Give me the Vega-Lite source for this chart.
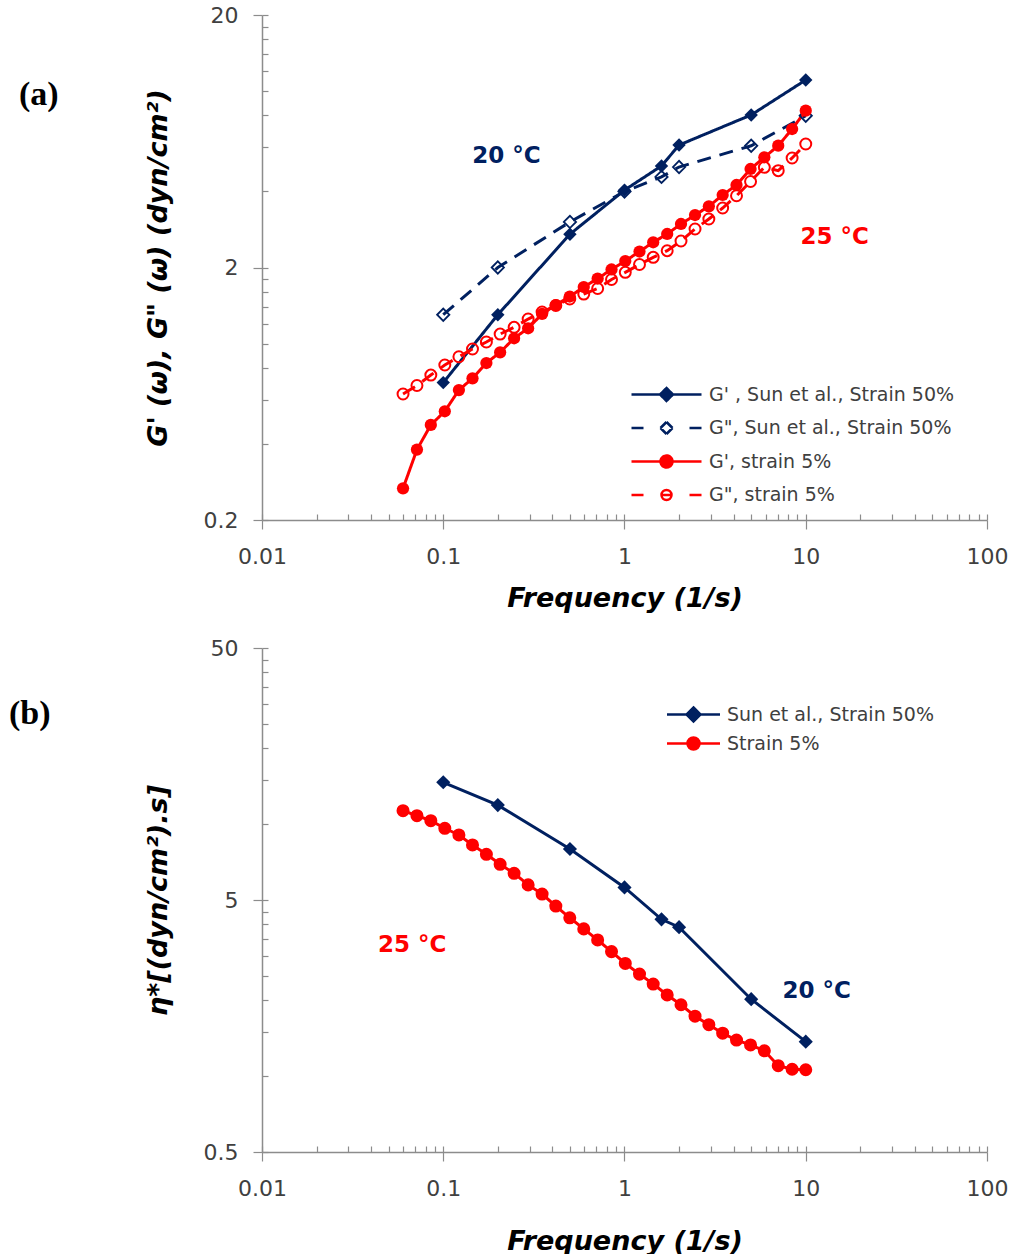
{
  "$schema": "https://vega.github.io/schema/vega-lite/v6.json",
  "background": "white",
  "padding": {"left": 9, "top": 4, "right": 0, "bottom": 0},
  "spacing": 26,
  "resolve": {"scale": {"color": "independent", "strokeDash": "independent", "x": "independent", "y": "independent"}, "legend": {"color": "independent"}},
  "config": {
    "view": {"stroke": null},
    "font": "DejaVu Sans",
    "axis": {
      "grid": false,
      "domainColor": "#8c8c8c",
      "domainWidth": 1.5,
      "tickColor": "#8c8c8c",
      "tickWidth": 1.2,
      "labelFont": "DejaVu Sans",
      "labelFontSize": 22,
      "labelColor": "#404040",
      "labelFlush": false,
      "labelOverlap": false,
      "titleFont": "DejaVu Sans",
      "titleFontWeight": "bold",
      "titleFontStyle": "italic",
      "titleColor": "#000000"
    },
    "legend": {
      "labelFont": "DejaVu Sans",
      "labelFontSize": 19,
      "labelColor": "#404040",
      "labelLimit": 400,
      "padding": 0
    }
  },
  "datasets": {
    "moduli": [
      {"series": "G' , Sun et al., Strain 50%", "freq": 0.1, "value": 0.70},
      {"series": "G' , Sun et al., Strain 50%", "freq": 0.2, "value": 1.30},
      {"series": "G' , Sun et al., Strain 50%", "freq": 0.5, "value": 2.71},
      {"series": "G' , Sun et al., Strain 50%", "freq": 1, "value": 4.05},
      {"series": "G' , Sun et al., Strain 50%", "freq": 1.6, "value": 5.05},
      {"series": "G' , Sun et al., Strain 50%", "freq": 2, "value": 6.11},
      {"series": "G' , Sun et al., Strain 50%", "freq": 5, "value": 8.04},
      {"series": "G' , Sun et al., Strain 50%", "freq": 10, "value": 11.06},
      {"series": "G\", Sun et al., Strain 50%", "freq": 0.1, "value": 1.30},
      {"series": "G\", Sun et al., Strain 50%", "freq": 0.2, "value": 2.0},
      {"series": "G\", Sun et al., Strain 50%", "freq": 0.5, "value": 3.03},
      {"series": "G\", Sun et al., Strain 50%", "freq": 1, "value": 4.0},
      {"series": "G\", Sun et al., Strain 50%", "freq": 1.6, "value": 4.57},
      {"series": "G\", Sun et al., Strain 50%", "freq": 2, "value": 5.0},
      {"series": "G\", Sun et al., Strain 50%", "freq": 5, "value": 6.07},
      {"series": "G\", Sun et al., Strain 50%", "freq": 10, "value": 7.98},
      {"series": "G', strain 5%", "freq": 0.06, "value": 0.267},
      {"series": "G', strain 5%", "freq": 0.0716, "value": 0.380},
      {"series": "G', strain 5%", "freq": 0.0854, "value": 0.476},
      {"series": "G', strain 5%", "freq": 0.102, "value": 0.539},
      {"series": "G', strain 5%", "freq": 0.122, "value": 0.654},
      {"series": "G', strain 5%", "freq": 0.145, "value": 0.728},
      {"series": "G', strain 5%", "freq": 0.173, "value": 0.837},
      {"series": "G', strain 5%", "freq": 0.206, "value": 0.923},
      {"series": "G', strain 5%", "freq": 0.246, "value": 1.049},
      {"series": "G', strain 5%", "freq": 0.294, "value": 1.149},
      {"series": "G', strain 5%", "freq": 0.351, "value": 1.309},
      {"series": "G', strain 5%", "freq": 0.418, "value": 1.420},
      {"series": "G', strain 5%", "freq": 0.499, "value": 1.535},
      {"series": "G', strain 5%", "freq": 0.596, "value": 1.674},
      {"series": "G', strain 5%", "freq": 0.711, "value": 1.809},
      {"series": "G', strain 5%", "freq": 0.848, "value": 1.964},
      {"series": "G', strain 5%", "freq": 1.01, "value": 2.122},
      {"series": "G', strain 5%", "freq": 1.21, "value": 2.314},
      {"series": "G', strain 5%", "freq": 1.44, "value": 2.517},
      {"series": "G', strain 5%", "freq": 1.72, "value": 2.715},
      {"series": "G', strain 5%", "freq": 2.05, "value": 2.974},
      {"series": "G', strain 5%", "freq": 2.45, "value": 3.228},
      {"series": "G', strain 5%", "freq": 2.92, "value": 3.494},
      {"series": "G', strain 5%", "freq": 3.48, "value": 3.874},
      {"series": "G', strain 5%", "freq": 4.15, "value": 4.244},
      {"series": "G', strain 5%", "freq": 4.96, "value": 4.911},
      {"series": "G', strain 5%", "freq": 5.91, "value": 5.464},
      {"series": "G', strain 5%", "freq": 7.05, "value": 6.073},
      {"series": "G', strain 5%", "freq": 8.41, "value": 7.07},
      {"series": "G', strain 5%", "freq": 10, "value": 8.36},
      {"series": "G\", strain 5%", "freq": 0.06, "value": 0.631},
      {"series": "G\", strain 5%", "freq": 0.0716, "value": 0.682},
      {"series": "G\", strain 5%", "freq": 0.0854, "value": 0.750},
      {"series": "G\", strain 5%", "freq": 0.102, "value": 0.822},
      {"series": "G\", strain 5%", "freq": 0.122, "value": 0.886},
      {"series": "G\", strain 5%", "freq": 0.145, "value": 0.951},
      {"series": "G\", strain 5%", "freq": 0.173, "value": 1.014},
      {"series": "G\", strain 5%", "freq": 0.206, "value": 1.090},
      {"series": "G\", strain 5%", "freq": 0.246, "value": 1.159},
      {"series": "G\", strain 5%", "freq": 0.294, "value": 1.250},
      {"series": "G\", strain 5%", "freq": 0.351, "value": 1.333},
      {"series": "G\", strain 5%", "freq": 0.418, "value": 1.414},
      {"series": "G\", strain 5%", "freq": 0.499, "value": 1.501},
      {"series": "G\", strain 5%", "freq": 0.596, "value": 1.570},
      {"series": "G\", strain 5%", "freq": 0.711, "value": 1.651},
      {"series": "G\", strain 5%", "freq": 0.848, "value": 1.793},
      {"series": "G\", strain 5%", "freq": 1.01, "value": 1.914},
      {"series": "G\", strain 5%", "freq": 1.21, "value": 2.056},
      {"series": "G\", strain 5%", "freq": 1.44, "value": 2.194},
      {"series": "G\", strain 5%", "freq": 1.72, "value": 2.331},
      {"series": "G\", strain 5%", "freq": 2.05, "value": 2.547},
      {"series": "G\", strain 5%", "freq": 2.45, "value": 2.842},
      {"series": "G\", strain 5%", "freq": 2.92, "value": 3.112},
      {"series": "G\", strain 5%", "freq": 3.48, "value": 3.440},
      {"series": "G\", strain 5%", "freq": 4.15, "value": 3.848},
      {"series": "G\", strain 5%", "freq": 4.96, "value": 4.381},
      {"series": "G\", strain 5%", "freq": 5.91, "value": 4.987},
      {"series": "G\", strain 5%", "freq": 7.05, "value": 4.835},
      {"series": "G\", strain 5%", "freq": 8.41, "value": 5.430},
      {"series": "G\", strain 5%", "freq": 10, "value": 6.168}
    ],
    "viscosity": [
      {"series": "Sun et al., Strain 50%", "freq": 0.1, "value": 14.66},
      {"series": "Sun et al., Strain 50%", "freq": 0.2, "value": 11.9},
      {"series": "Sun et al., Strain 50%", "freq": 0.5, "value": 7.97},
      {"series": "Sun et al., Strain 50%", "freq": 1, "value": 5.61},
      {"series": "Sun et al., Strain 50%", "freq": 1.6, "value": 4.19},
      {"series": "Sun et al., Strain 50%", "freq": 2, "value": 3.90},
      {"series": "Sun et al., Strain 50%", "freq": 5, "value": 2.02},
      {"series": "Sun et al., Strain 50%", "freq": 10, "value": 1.37},
      {"series": "Strain 5%", "freq": 0.06, "value": 11.31},
      {"series": "Strain 5%", "freq": 0.0716, "value": 10.80},
      {"series": "Strain 5%", "freq": 0.0854, "value": 10.32},
      {"series": "Strain 5%", "freq": 0.102, "value": 9.63},
      {"series": "Strain 5%", "freq": 0.122, "value": 9.06},
      {"series": "Strain 5%", "freq": 0.145, "value": 8.27},
      {"series": "Strain 5%", "freq": 0.173, "value": 7.59},
      {"series": "Strain 5%", "freq": 0.206, "value": 6.93},
      {"series": "Strain 5%", "freq": 0.246, "value": 6.38},
      {"series": "Strain 5%", "freq": 0.294, "value": 5.74},
      {"series": "Strain 5%", "freq": 0.351, "value": 5.28},
      {"series": "Strain 5%", "freq": 0.418, "value": 4.73},
      {"series": "Strain 5%", "freq": 0.499, "value": 4.25},
      {"series": "Strain 5%", "freq": 0.596, "value": 3.84},
      {"series": "Strain 5%", "freq": 0.711, "value": 3.47},
      {"series": "Strain 5%", "freq": 0.848, "value": 3.12},
      {"series": "Strain 5%", "freq": 1.01, "value": 2.80},
      {"series": "Strain 5%", "freq": 1.21, "value": 2.54},
      {"series": "Strain 5%", "freq": 1.44, "value": 2.32},
      {"series": "Strain 5%", "freq": 1.72, "value": 2.10},
      {"series": "Strain 5%", "freq": 2.05, "value": 1.92},
      {"series": "Strain 5%", "freq": 2.45, "value": 1.73},
      {"series": "Strain 5%", "freq": 2.92, "value": 1.60},
      {"series": "Strain 5%", "freq": 3.48, "value": 1.48},
      {"series": "Strain 5%", "freq": 4.15, "value": 1.39},
      {"series": "Strain 5%", "freq": 4.96, "value": 1.33},
      {"series": "Strain 5%", "freq": 5.91, "value": 1.26},
      {"series": "Strain 5%", "freq": 7.05, "value": 1.10},
      {"series": "Strain 5%", "freq": 8.41, "value": 1.065},
      {"series": "Strain 5%", "freq": 10, "value": 1.06}
    ],
    "labels": [
      {"panel": "a", "temp": 20, "label": "20 °C", "freq": 0.223, "value": 5.53},
      {"panel": "a", "temp": 25, "label": "25 °C", "freq": 14.45, "value": 2.64},
      {"panel": "b", "temp": 25, "label": "25 °C", "freq": 0.0675, "value": 3.31},
      {"panel": "b", "temp": 20, "label": "20 °C", "freq": 11.5, "value": 2.18}
    ]
  },
  "vconcat": [
    {
      "width": 725,
      "height": 505,
      "title": {"text": "(a)", "anchor": "start", "frame": "group", "font": "Liberation Serif", "fontSize": 34, "fontWeight": "bold", "color": "#000000", "baseline": "middle", "dx": -243, "dy": 125, "offset": 0},
      "resolve": {"axis": {"x": "independent", "y": "independent"}},
      "layer": [
        {
          "data": {"name": "moduli"},
          "mark": {"type": "line", "strokeWidth": 3},
          "encoding": {
            "x": {"field": "freq", "type": "quantitative", "scale": {"type": "log", "domain": [0.01, 100], "nice": false},
                  "axis": {"orient": "bottom", "title": "Frequency (1/s)", "values": [0.01, 0.1, 1, 10, 100], "format": "~g", "tickSize": 9, "labelPadding": 17, "titlePadding": 18, "titleFontSize": 27}},
            "y": {"field": "value", "type": "quantitative", "scale": {"type": "log", "domain": [0.2, 20], "nice": false},
                  "axis": {"orient": "left", "title": "G' (ω), G\" (ω)  (dyn/cm²)", "values": [0.2, 2, 20], "format": "~g", "tickSize": 9, "labelPadding": 15, "titlePadding": 31, "titleFontSize": 27}},
            "color": {"field": "series", "type": "nominal",
                      "scale": {"domain": ["G' , Sun et al., Strain 50%", "G\", Sun et al., Strain 50%", "G', strain 5%", "G\", strain 5%"], "range": ["#002060", "#002060", "#ff0000", "#ff0000"]},
                      "legend": {"title": null, "orient": "none", "legendX": 393, "legendY": 368, "symbolSize": 400, "labelOffset": 31, "rowPadding": 10.5,
                        "encode": {"symbols": {"update": {
                          "shape": {"signal": "['M-3.5,0H3.5M0,-0.65L0.65,0L0,0.65L-0.65,0Z','M-3.5,0H-2.3M2.3,0H3.5M0,-0.6L0.6,0M0.6,0L0,0.6M0,0.6L-0.6,0M-0.6,0L0,-0.6','M-3.5,0H3.5M0.6,0A0.6,0.6,0,1,1,-0.6,0A0.6,0.6,0,1,1,0.6,0Z','M-3.5,0H-2.3M2.3,0H3.5M0.5,0A0.5,0.5,0,0,1,0,0.5M0,0.5A0.5,0.5,0,0,1,-0.5,0M-0.5,0A0.5,0.5,0,0,1,0,-0.5M0,-0.5A0.5,0.5,0,0,1,0.5,0M-0.5,0H0.5'][datum.index]"},
                          "fill": {"signal": "['#002060','#ffffff','#ff0000','#ffffff'][datum.index]"},
                          "stroke": {"signal": "['#002060','#002060','#ff0000','#ff0000'][datum.index]"},
                          "strokeWidth": {"value": 2.5},
                          "opacity": {"value": 1}
                        }}}}},
            "strokeDash": {"field": "series", "type": "nominal",
                           "scale": {"domain": ["G' , Sun et al., Strain 50%", "G\", Sun et al., Strain 50%", "G', strain 5%", "G\", strain 5%"], "range": [[1, 0], [14, 9], [1, 0], [14, 9]]},
                           "legend": null}
          }
        },
        {
          "data": {"name": "moduli"},
          "transform": [{"filter": {"field": "series", "equal": "G' , Sun et al., Strain 50%"}}],
          "mark": {"type": "point", "shape": "diamond", "size": 180, "filled": true, "color": "#002060", "opacity": 1},
          "encoding": {
            "x": {"field": "freq", "type": "quantitative",
                  "axis": {"orient": "bottom", "title": null, "labels": false, "domain": false, "tickSize": -6,
                           "values": [0.01,0.02,0.03,0.04,0.05,0.06,0.07,0.08,0.09,0.1,0.2,0.3,0.4,0.5,0.6,0.7,0.8,0.9,1,2,3,4,5,6,7,8,9,10,20,30,40,50,60,70,80,90,100]}},
            "y": {"field": "value", "type": "quantitative",
                  "axis": {"orient": "left", "title": null, "labels": false, "domain": false, "tickSize": -6,
                           "values": [0.2,0.4,0.6,0.8,1,1.2,1.4,1.6,1.8,2,4,6,8,10,12,14,16,18,20]}}
          }
        },
        {
          "data": {"name": "moduli"},
          "transform": [{"filter": {"field": "series", "equal": "G\", Sun et al., Strain 50%"}}],
          "mark": {"type": "point", "shape": "diamond", "size": 150, "filled": false, "stroke": "#002060", "strokeWidth": 1.8, "opacity": 1},
          "encoding": {
            "x": {"field": "freq", "type": "quantitative", "axis": null},
            "y": {"field": "value", "type": "quantitative", "axis": null}
          }
        },
        {
          "data": {"name": "moduli"},
          "transform": [{"filter": {"field": "series", "equal": "G', strain 5%"}}],
          "mark": {"type": "point", "shape": "circle", "size": 150, "filled": true, "color": "#ff0000", "opacity": 1},
          "encoding": {
            "x": {"field": "freq", "type": "quantitative", "axis": null},
            "y": {"field": "value", "type": "quantitative", "axis": null}
          }
        },
        {
          "data": {"name": "moduli"},
          "transform": [{"filter": {"field": "series", "equal": "G\", strain 5%"}}],
          "mark": {"type": "point", "shape": "circle", "size": 120, "filled": false, "stroke": "#ff0000", "strokeWidth": 2, "opacity": 1},
          "encoding": {
            "x": {"field": "freq", "type": "quantitative", "axis": null},
            "y": {"field": "value", "type": "quantitative", "axis": null}
          }
        },
        {
          "data": {"name": "labels"},
          "transform": [{"filter": "datum.panel == 'a' && datum.temp == 20"}],
          "mark": {"type": "text", "font": "DejaVu Sans", "fontSize": 23, "fontWeight": "bold", "color": "#002060"},
          "encoding": {
            "x": {"field": "freq", "type": "quantitative", "axis": null},
            "y": {"field": "value", "type": "quantitative", "axis": null},
            "text": {"field": "label"}
          }
        },
        {
          "data": {"name": "labels"},
          "transform": [{"filter": "datum.panel == 'a' && datum.temp == 25"}],
          "mark": {"type": "text", "font": "DejaVu Sans", "fontSize": 23, "fontWeight": "bold", "color": "#ff0000"},
          "encoding": {
            "x": {"field": "freq", "type": "quantitative", "axis": null},
            "y": {"field": "value", "type": "quantitative", "axis": null},
            "text": {"field": "label"}
          }
        }
      ]
    },
    {
      "width": 725,
      "height": 504,
      "title": {"text": "(b)", "anchor": "start", "frame": "group", "font": "Liberation Serif", "fontSize": 34, "fontWeight": "bold", "color": "#000000", "baseline": "middle", "dx": -253, "dy": 111, "offset": 0},
      "resolve": {"axis": {"x": "independent", "y": "independent"}},
      "layer": [
        {
          "data": {"name": "viscosity"},
          "mark": {"type": "line", "strokeWidth": 3},
          "encoding": {
            "x": {"field": "freq", "type": "quantitative", "scale": {"type": "log", "domain": [0.01, 100], "nice": false},
                  "axis": {"orient": "bottom", "title": "Frequency (1/s)", "values": [0.01, 0.1, 1, 10, 100], "format": "~g", "tickSize": 9, "labelPadding": 17, "titlePadding": 29, "titleFontSize": 27}},
            "y": {"field": "value", "type": "quantitative", "scale": {"type": "log", "domain": [0.5, 50], "nice": false},
                  "axis": {"orient": "left", "title": "η*[(dyn/cm²).s]", "values": [0.5, 5, 50], "format": "~g", "tickSize": 9, "labelPadding": 15, "titlePadding": 31, "titleFontSize": 27}},
            "color": {"field": "series", "type": "nominal",
                      "scale": {"domain": ["Sun et al., Strain 50%", "Strain 5%"], "range": ["#002060", "#ff0000"]},
                      "legend": {"title": null, "orient": "none", "legendX": 420, "legendY": 55, "symbolSize": 400, "labelOffset": 22, "rowPadding": 5,
                        "encode": {"symbols": {"update": {
                          "shape": {"signal": "['M-2.65,0H2.65M0,-0.7L0.7,0L0,0.7L-0.7,0Z','M-2.65,0H2.65M0.6,0A0.6,0.6,0,1,1,-0.6,0A0.6,0.6,0,1,1,0.6,0Z'][datum.index]"},
                          "fill": {"signal": "['#002060','#ff0000'][datum.index]"},
                          "stroke": {"signal": "['#002060','#ff0000'][datum.index]"},
                          "strokeWidth": {"value": 2.5},
                          "opacity": {"value": 1}
                        }}}}}
          }
        },
        {
          "data": {"name": "viscosity"},
          "transform": [{"filter": {"field": "series", "equal": "Sun et al., Strain 50%"}}],
          "mark": {"type": "point", "shape": "diamond", "size": 200, "filled": true, "color": "#002060", "opacity": 1},
          "encoding": {
            "x": {"field": "freq", "type": "quantitative",
                  "axis": {"orient": "bottom", "title": null, "labels": false, "domain": false, "tickSize": -6,
                           "values": [0.01,0.02,0.03,0.04,0.05,0.06,0.07,0.08,0.09,0.1,0.2,0.3,0.4,0.5,0.6,0.7,0.8,0.9,1,2,3,4,5,6,7,8,9,10,20,30,40,50,60,70,80,90,100]}},
            "y": {"field": "value", "type": "quantitative",
                  "axis": {"orient": "left", "title": null, "labels": false, "domain": false, "tickSize": -6,
                           "values": [0.5,1,1.5,2,2.5,3,3.5,4,4.5,5,10,15,20,25,30,35,40,45,50]}}
          }
        },
        {
          "data": {"name": "viscosity"},
          "transform": [{"filter": {"field": "series", "equal": "Strain 5%"}}],
          "mark": {"type": "point", "shape": "circle", "size": 170, "filled": true, "color": "#ff0000", "opacity": 1},
          "encoding": {
            "x": {"field": "freq", "type": "quantitative", "axis": null},
            "y": {"field": "value", "type": "quantitative", "axis": null}
          }
        },
        {
          "data": {"name": "labels"},
          "transform": [{"filter": "datum.panel == 'b' && datum.temp == 20"}],
          "mark": {"type": "text", "font": "DejaVu Sans", "fontSize": 23, "fontWeight": "bold", "color": "#002060"},
          "encoding": {
            "x": {"field": "freq", "type": "quantitative", "axis": null},
            "y": {"field": "value", "type": "quantitative", "axis": null},
            "text": {"field": "label"}
          }
        },
        {
          "data": {"name": "labels"},
          "transform": [{"filter": "datum.panel == 'b' && datum.temp == 25"}],
          "mark": {"type": "text", "font": "DejaVu Sans", "fontSize": 23, "fontWeight": "bold", "color": "#ff0000"},
          "encoding": {
            "x": {"field": "freq", "type": "quantitative", "axis": null},
            "y": {"field": "value", "type": "quantitative", "axis": null},
            "text": {"field": "label"}
          }
        }
      ]
    }
  ]
}
